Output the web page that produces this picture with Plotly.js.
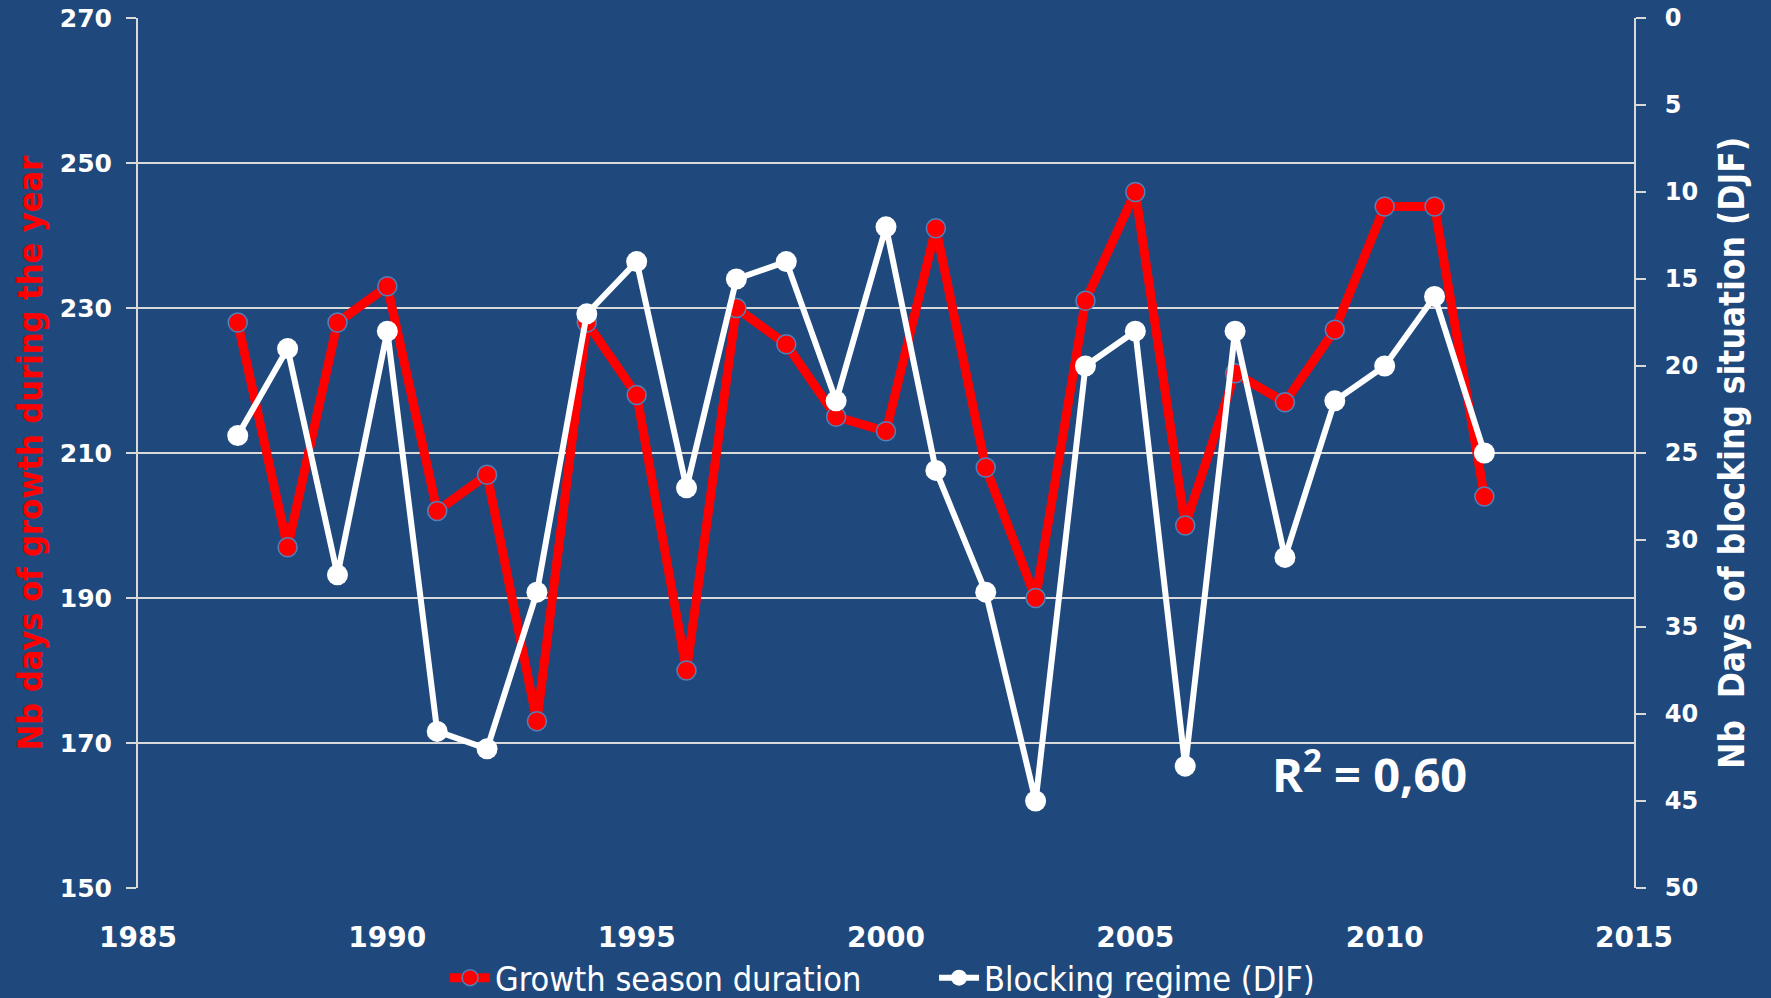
<!DOCTYPE html>
<html>
<head>
<meta charset="utf-8">
<script src="https://cdn.plot.ly/plotly-3.0.1.min.js"></script>
<style>html,body{margin:0;padding:0;background:#1F497D;}#chart{width:1771px;height:998px;}</style>
</head>
<body>
<div id="chart"></div>
<script>
const years = [1987,1988,1989,1990,1991,1992,1993,1994,1995,1996,1997,1998,1999,2000,2001,2002,2003,2004,2005,2006,2007,2008,2009,2010,2011,2012];
const growthDays = [228,197,228,233,202,207,173,228,218,180,230,225,215,213,241,208,190,231,246,200,221,217,227,244,244,204];
const blockingDays = [24,19,32,18,41,42,33,17,14,27,15,14,22,12,26,33,45,20,18,43,18,31,22,20,16,25];
const seriesNames = ["Growth season duration", "Blocking regime (DJF)"];
const leftTitle = "Nb days of growth during the year";
const rightTitle = "Nb\u00A0 Days of blocking situation (DJF)";
const r2Text = "R<sup>2</sup> = 0,60";

const narrow = "DejaVu Sans Condensed, Liberation Sans Narrow, sans-serif";
const tickFamily = "DejaVu Sans, Verdana, sans-serif";

const traces = [
  {
    x: years, y: growthDays, name: seriesNames[0], type: "scatter", mode: "lines+markers",
    line: {color: "#FF0000", width: 9},
    marker: {color: "#FF0000", size: 19, line: {color: "#4F81BD", width: 1.5}},
    yaxis: "y"
  },
  {
    x: years, y: blockingDays, name: seriesNames[1], type: "scatter", mode: "lines+markers",
    line: {color: "#FFFFFF", width: 6},
    marker: {color: "#FFFFFF", size: 21},
    yaxis: "y2"
  }
];

const layout = {
  width: 1771, height: 998,
  paper_bgcolor: "#1F497D", plot_bgcolor: "#1F497D",
  margin: {l: 138, r: 137, t: 18, b: 110, autoexpand: false},
  showlegend: true,
  legend: {
    orientation: "h", x: 0.2513, xanchor: "left", xref: "container",
    y: 0.02, yanchor: "middle", yref: "container",
    font: {family: narrow, size: 34, color: "white"},
    bgcolor: "rgba(0,0,0,0)", itemwidth: 40,
    entrywidth: 434, entrywidthmode: "pixels"
  },
  xaxis: {
    range: [1985, 2015], tick0: 1985, dtick: 5, showgrid: false, zeroline: false,
    showline: false, ticks: "",
    tickfont: {family: tickFamily, size: 28, color: "white", weight: "bold"},
    ticklabelstandoff: 30
  },
  yaxis: {
    range: [150, 270], tick0: 150, dtick: 20, showgrid: true, gridcolor: "#D9D9D9", gridwidth: 1.5,
    zeroline: false, showline: true, linecolor: "#D9D9D9", linewidth: 2,
    ticks: "outside", ticklen: 10, tickcolor: "#D9D9D9", tickwidth: 1.5,
    tickfont: {family: tickFamily, size: 25, color: "white", weight: "bold"}, ticklabelstandoff: 9,
    title: {text: leftTitle, font: {family: narrow, size: 34, color: "#FF0000", weight: "bold"}, standoff: 7}
  },
  yaxis2: {
    overlaying: "y", side: "right", range: [50, 0], tick0: 0, dtick: 5, showgrid: false,
    zeroline: false, showline: true, linecolor: "#D9D9D9", linewidth: 2,
    ticks: "outside", ticklen: 10, tickcolor: "#D9D9D9", tickwidth: 1.5,
    tickfont: {family: tickFamily, size: 24, color: "white", weight: "bold"}, ticklabelstandoff: 14,
    title: {text: rightTitle, font: {family: narrow, size: 35, color: "white", weight: "bold"}, standoff: 22}
  },
  annotations: [
    {x: 2009.7, y: 166.1, xref: "x", yref: "y", text: r2Text, showarrow: false,
     font: {family: "Open Sans, sans-serif", size: 47, color: "white", weight: "bold"}}
  ]
};

Plotly.newPlot("chart", traces, layout, {displayModeBar: false, staticPlot: true});
</script>
</body>
</html>
